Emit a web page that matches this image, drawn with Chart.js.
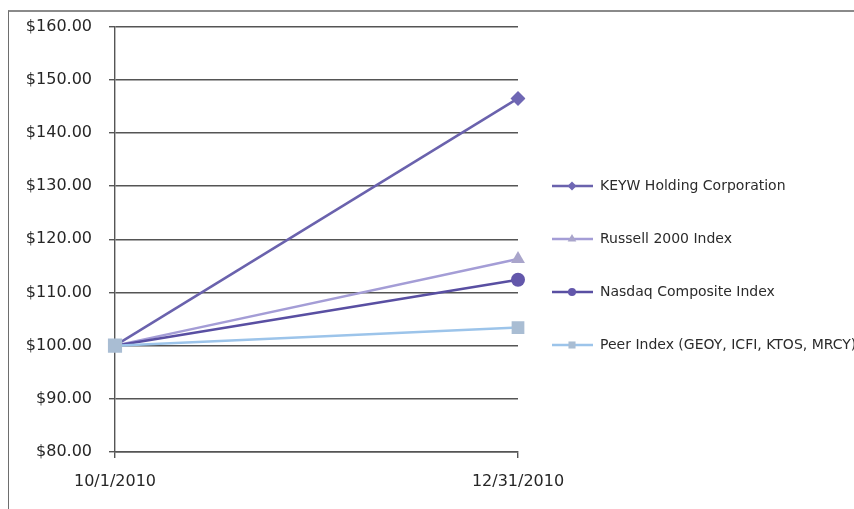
<!DOCTYPE html>
<html>
<head>
<meta charset="utf-8">
<script src="https://cdn.jsdelivr.net/npm/chart.js@4.4.1/dist/chart.umd.min.js"></script>
<style>
  html, body { margin: 0; padding: 0; background: #fff; overflow: hidden; }
  #wrap { position: relative; width: 854px; height: 509px; overflow: hidden; }
  #frame { position: absolute; left: 8px; top: 10px; width: 1000px; height: 600px; border-left: 1px solid #6e6e6e; border-top: 2px solid #8a8a8a; box-sizing: border-box; }
  canvas { position: absolute; left: 0; top: 0; }
</style>
</head>
<body>
<div id="wrap">
  <div id="frame"></div>
  <canvas id="c" width="854" height="509"></canvas>
</div>
<script>
const categories = ['10/1/2010', '12/31/2010'];
const seriesNames = ['KEYW Holding Corporation', 'Russell 2000 Index', 'Nasdaq Composite Index', 'Peer Index (GEOY, ICFI, KTOS, MRCY)'];
const keywValues = [100, 146.5];
const russellValues = [100, 116.3];
const nasdaqValues = [100, 112.4];
const peerValues = [100, 103.4];
const yTicks = { min: 80, max: 160, step: 10 };

const styles = [
  { line: '#6a62ad', fill: '#6f67b4', point: 'rectRot', radius: [5, 7.5], legendRadius: 4.5 },
  { line: '#a49dd6', fill: '#a9a5cb', point: 'triangle', radius: [5, 8], legendRadius: 5 },
  { line: '#594fa2', fill: '#6357ab', point: 'circle', radius: [5, 7], legendRadius: 4 },
  { line: '#9cc4ea', fill: '#a9bdd3', point: 'rect', radius: [10, 9], legendRadius: 5 }
];
const values = [keywValues, russellValues, nasdaqValues, peerValues];

const datasets = seriesNames.map((name, i) => ({
  label: name,
  data: values[i],
  borderColor: styles[i].line,
  backgroundColor: styles[i].fill,
  borderWidth: 2.5,
  pointStyle: styles[i].point,
  pointRadius: styles[i].radius,
  pointBackgroundColor: styles[i].fill,
  pointBorderColor: styles[i].fill,
  pointBorderWidth: 0,
  tension: 0,
  order: 4 - i
}));

const legendPlugin = {
  id: 'excelLegend',
  afterDraw(chart) {
    const ctx = chart.ctx;
    const rowsY = [186, 239, 292, 345];
    ctx.save();
    datasets.forEach((ds, i) => {
      const y = rowsY[i];
      ctx.strokeStyle = ds.borderColor;
      ctx.lineWidth = 2.5;
      ctx.beginPath();
      ctx.moveTo(552, y);
      ctx.lineTo(593, y);
      ctx.stroke();
      ctx.fillStyle = ds.pointBackgroundColor;
      Chart.helpers.drawPoint(ctx, { pointStyle: ds.pointStyle, radius: styles[i].legendRadius, borderWidth: 0 }, 572, y);
      ctx.fillStyle = '#2b2b2b';
      ctx.font = '14px "DejaVu Sans"';
      ctx.textBaseline = 'middle';
      ctx.textAlign = 'left';
      ctx.fillText(ds.label, 600, y);
    });
    ctx.restore();
  }
};

new Chart(document.getElementById('c'), {
  type: 'line',
  data: { labels: categories, datasets },
  options: {
    responsive: false,
    animation: false,
    devicePixelRatio: 1,
    layout: { padding: { left: 0, top: 25, right: 336, bottom: 0 } },
    plugins: { legend: { display: false }, tooltip: { enabled: false } },
    scales: {
      x: {
        type: 'category',
        offset: false,
        afterFit(s) { s.height = 57; },
        grid: { drawOnChartArea: false, drawTicks: true, tickLength: 6, color: '#555', lineWidth: 1.4 },
        border: { display: true, color: '#555', width: 1.4 },
        ticks: { color: '#262626', font: { family: '"DejaVu Sans"', size: 16 }, padding: 14, maxRotation: 0 }
      },
      y: {
        min: yTicks.min,
        max: yTicks.max,
        afterFit(s) { s.width = 115; },
        grid: { drawOnChartArea: true, drawTicks: true, tickLength: 6, color: '#555', lineWidth: 1.4 },
        border: { display: true, color: '#555', width: 1.4 },
        ticks: {
          stepSize: yTicks.step,
          color: '#262626',
          font: { family: '"DejaVu Sans"', size: 16 },
          padding: 17,
          callback: v => '$' + Number(v).toFixed(2)
        }
      }
    }
  },
  plugins: [legendPlugin]
});
</script>
</body>
</html>
